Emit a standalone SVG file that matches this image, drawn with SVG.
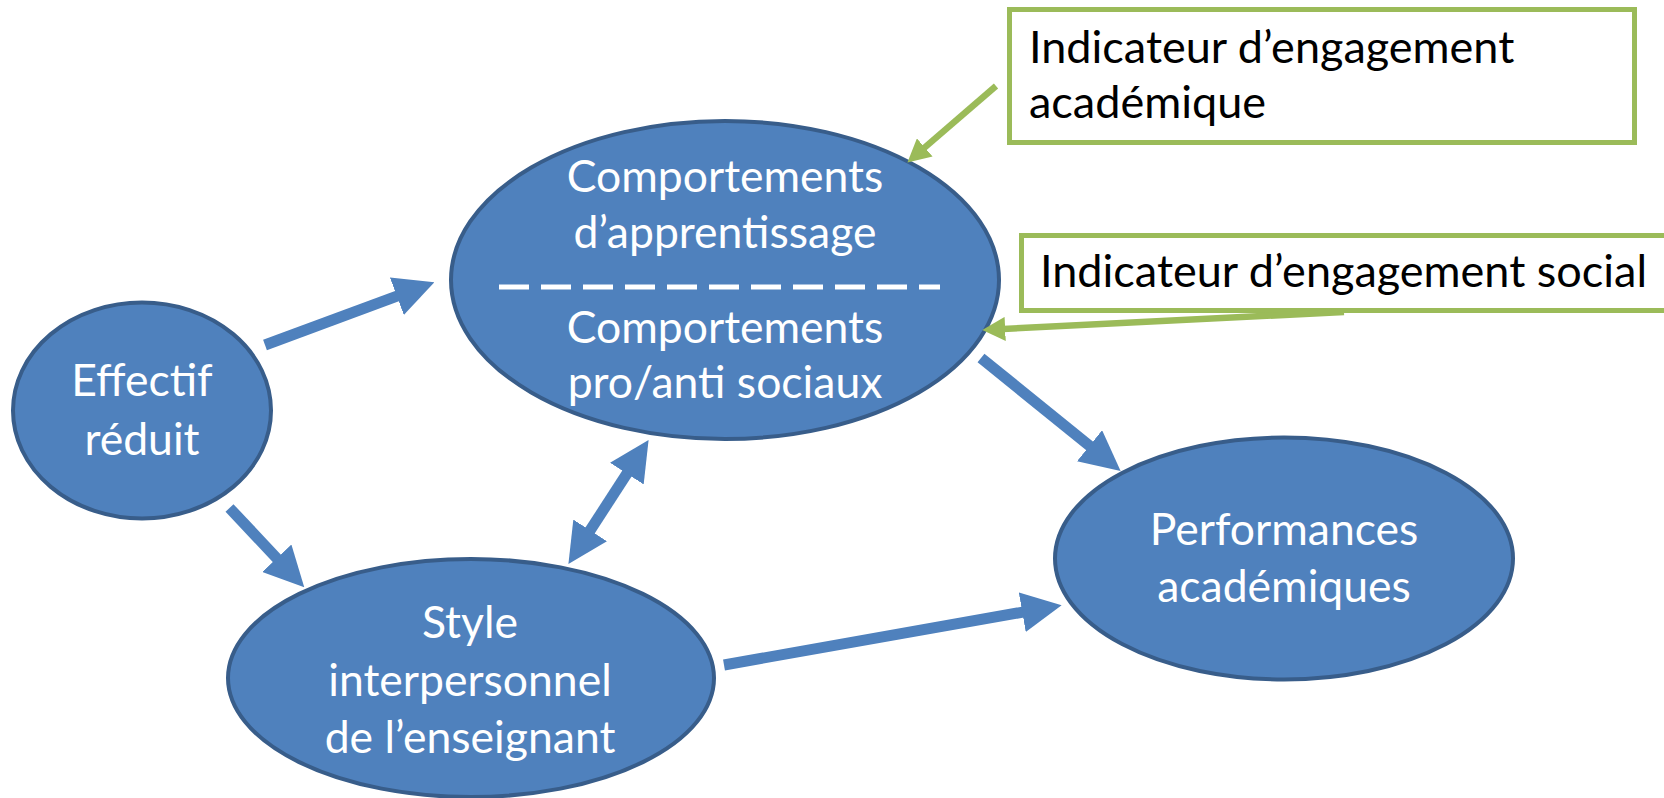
<svg xmlns="http://www.w3.org/2000/svg" width="1664" height="798" viewBox="0 0 1664 798">
<style>
.node{fill:#4F81BD;stroke:#385D8A;stroke-width:4}
.nt{font-family:Lato,"Liberation Sans",sans-serif;font-size:44.5px;fill:#fff;text-anchor:middle}
.bt{font-family:Lato,"Liberation Sans",sans-serif;font-size:45px;fill:#000}
.box{fill:#fff;stroke:#9BBB59;stroke-width:5}
.ba{stroke:#4F81BD;stroke-width:11;fill:none}
.ga{stroke:#9BBB59;stroke-width:6.5;fill:none}
</style>
<defs>
<marker id="bh" markerUnits="userSpaceOnUse" markerWidth="40" markerHeight="40" refX="2" refY="17.5" orient="auto-start-reverse" viewBox="0 0 35 35">
<path d="M0,0 L35,17.5 L0,35 z" fill="#4F81BD"/>
</marker>
<marker id="gh" markerUnits="userSpaceOnUse" markerWidth="24" markerHeight="24" refX="2" refY="11" orient="auto" viewBox="0 0 22 22">
<path d="M0,0 L21,11 L0,22 z" fill="#9BBB59"/>
</marker>
</defs>
<rect width="1664" height="798" fill="#fff"/>
<g id="box-academique">
<rect class="box" x="1009.5" y="9.5" width="625" height="133"/>
<text class="bt" x="1029" y="63">Indicateur d’engagement</text>
<text class="bt" x="1029" y="118">académique</text>
</g>
<g id="box-social">
<rect class="box" x="1021.5" y="235.5" width="660" height="75"/>
<text class="bt" x="1040" y="287">Indicateur d’engagement social</text>
</g>
<g id="n-comportements">
<ellipse class="node" cx="725" cy="280" rx="274" ry="159"/>
<text class="nt" x="725" y="192">Comportements</text>
<text class="nt" x="725" y="248">d’apprentissage</text>
<line x1="499" y1="287" x2="940" y2="287" stroke="#fff" stroke-width="5" stroke-dasharray="30 12"/>
<text class="nt" x="725" y="343">Comportements</text>
<text class="nt" x="725" y="398">pro/anti sociaux</text>
</g>
<g id="n-effectif">
<ellipse class="node" cx="142" cy="410.5" rx="129" ry="108"/>
<text class="nt" x="142" y="396">Effectif</text>
<text class="nt" x="142" y="455">réduit</text>
</g>
<g id="n-style">
<ellipse class="node" cx="471" cy="678" rx="243" ry="119"/>
<text class="nt" x="470" y="638">Style</text>
<text class="nt" x="470" y="696">interpersonnel</text>
<text class="nt" x="470" y="753">de l’enseignant</text>
</g>
<g id="n-performances">
<ellipse class="node" cx="1284" cy="558.5" rx="229" ry="121"/>
<text class="nt" x="1284" y="545">Performances</text>
<text class="nt" x="1284" y="602">académiques</text>
</g>
<g id="connectors">
<line class="ba" x1="265" y1="345" x2="399" y2="295.4" marker-end="url(#bh)"/>
<line class="ba" x1="229.5" y1="508" x2="278.4" y2="559.9" marker-end="url(#bh)"/>
<line class="ba" x1="588.9" y1="532.3" x2="628.1" y2="471.7" marker-start="url(#bh)" marker-end="url(#bh)"/>
<line class="ba" x1="981" y1="358" x2="1091.3" y2="447.2" marker-end="url(#bh)"/>
<line class="ba" x1="724" y1="665" x2="1024.5" y2="611.8" marker-end="url(#bh)"/>
<line class="ga" x1="996" y1="86" x2="923.1" y2="148.9" marker-end="url(#gh)"/>
<line class="ga" x1="1344" y1="312" x2="1003" y2="329" marker-end="url(#gh)"/>
</g>
</svg>
